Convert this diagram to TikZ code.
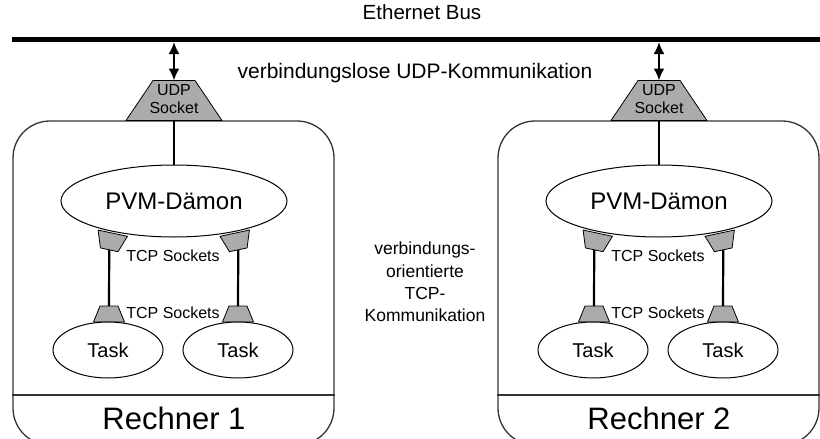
\documentclass[tikz,border=0pt]{standalone}
\usepackage{fontspec}
\setmainfont{Liberation Sans}
\usetikzlibrary{shapes.geometric,arrows.meta}
\begin{document}
\begin{tikzpicture}[x=1pt,y=-1pt,
  box/.style={draw=black!80, line width=1.3pt, rounded corners=37pt, minimum width=321pt, minimum height=324pt, inner sep=0pt},
  sepline/.style={draw=black!80, line width=1.1pt},
  sock/.style={fill=black!33, draw=black, line width=0.8pt, line join=round},
  daemon/.style={ellipse, draw, line width=1pt, fill=white, minimum width=226pt, minimum height=72pt, inner sep=0pt, font=\fontsize{24}{28}\selectfont},
  task/.style={ellipse, draw, line width=1pt, fill=white, minimum width=110pt, minimum height=56pt, inner sep=0pt, font=\fontsize{20}{24}\selectfont},
  link/.style={line width=2.2pt},
  biarrow/.style={line width=2.2pt, {Latex[length=12pt,width=11pt]}-{Latex[length=12pt,width=11pt]}},
  lbl/.style={font=\fontsize{16}{18}\selectfont, inner sep=1pt, align=center},
  big/.style={font=\fontsize{31}{36}\selectfont, inner sep=0pt},
]
\useasboundingbox (0,0) rectangle (820,439);
% bus
\coordinate (busL) at (12,39.5);
\coordinate (busR) at (822,39.5);
\draw[line width=5pt] (busL) -- (busR);
\node[font=\fontsize{20.5}{24}\selectfont] (eth) at (422,12) {Ethernet Bus};
\node[font=\fontsize{21}{24}\selectfont] (udptxt) at (415,73) {verbindungslose UDP-Kommunikation};
\node[font=\fontsize{17.5}{22.3}\selectfont, align=center] (tcptxt) at (425,282) {verbindungs-\\orientierte\\TCP-\\Kommunikation};
\coordinate (sepy) at (0,395);
\foreach \i/\dx in {1/0, 2/485}{
  \node[box] (box\i) at ({173.5+\dx},283) {};
  \draw[sepline] (box\i.west |- sepy) -- (box\i.east |- sepy);
  \node[big] (rech\i) at ({174+\dx},418) {Rechner \i};
  \coordinate (bus\i) at ({174+\dx},42);
  % UDP socket
  \draw[sock, shift={({174+\dx},100.5)}] (-48,20) -- (48,20) -- (21,-20) -- (-21,-20) -- cycle
     (0,-20) coordinate (udpn\i) (0,20) coordinate (udps\i);
  \node[lbl] (udplbl\i) at ({174+\dx},99) {UDP\\Socket};
  \draw[biarrow] (bus\i) -- (udpn\i);
  % TCP sockets at daemon
  \draw[sock, shift={({111+\dx},241.5)}, rotate=-12] (-15,-8.5) -- (15,-8.5) -- (9,8.5) -- (-9,8.5) -- cycle
     (0,8.5) coordinate (ta\i);
  \draw[sock, shift={({236.5+\dx},241.5)}, rotate=12] (-15,-8.5) -- (15,-8.5) -- (9,8.5) -- (-9,8.5) -- cycle
     (0,8.5) coordinate (tb\i);
  % TCP sockets at tasks
  \draw[sock, shift={({109+\dx},314)}] (-15.5,8) -- (15.5,8) -- (9,-8) -- (-9,-8) -- cycle
     (0,-8) coordinate (tc\i);
  \draw[sock, shift={({238+\dx},314)}] (-15.5,8) -- (15.5,8) -- (9,-8) -- (-9,-8) -- cycle
     (0,-8) coordinate (td\i);
  \node[daemon] (pvm\i) at ({174+\dx},201) {PVM-Dämon};
  \draw[link] (udps\i) -- (pvm\i.north);
  \draw[link] (ta\i) -- (tc\i);
  \draw[link] (tb\i) -- (td\i);
  \node[task] (taska\i) at ({108+\dx},350) {Task};
  \node[task] (taskb\i) at ({238+\dx},350) {Task};
  \node[lbl, fill=white, inner sep=0.5pt] (tcpl\i) at ({173+\dx},256) {TCP Sockets};
  \node[lbl, fill=white, inner sep=0.5pt] (tcpm\i) at ({173+\dx},313) {TCP Sockets};
}
\end{tikzpicture}
\end{document}
